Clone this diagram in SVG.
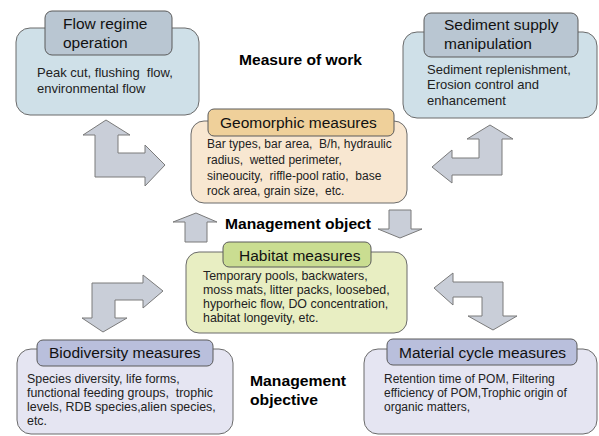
<svg xmlns="http://www.w3.org/2000/svg" width="599" height="436" viewBox="0 0 599 436">
<style>
text{white-space:pre}
.outer{stroke:#6b6b6b;stroke-width:1}
.tab{stroke:#5a5a5a;stroke-width:1}
.title{font-family:"Liberation Sans",Arial,sans-serif;font-size:15.5px;fill:#111}
.body{font-family:"Liberation Sans",Arial,sans-serif;font-size:12px;fill:#222}
.bodyL{font-family:"Liberation Sans",Arial,sans-serif;font-size:12.4px;fill:#222}
.body13{font-family:"Liberation Sans",Arial,sans-serif;font-size:13px;fill:#222}
.lbl{font-family:"Liberation Sans",Arial,sans-serif;font-size:14.5px;font-weight:bold;fill:#000}
.arr{fill:#c9ced8;stroke:#7a7a7a;stroke-width:1;stroke-linejoin:miter}
</style>
<rect width="599" height="436" fill="#ffffff"/>

<g id="flow-regime">
<rect class="outer" x="16" y="28" width="183" height="87" rx="14" fill="#cfe0e8"/>
<rect class="tab" x="45" y="11" width="127" height="44" rx="7" fill="#b9c6d2"/>
<text class="title" x="63" y="29">Flow regime</text>
<text class="title" x="63" y="48">operation</text>
<text class="body13" x="37" y="77">Peak cut, flushing  flow,</text>
<text class="body13" x="37" y="93">environmental flow</text>
</g>

<g id="sediment-supply">
<rect class="outer" x="403" y="32" width="194" height="86" rx="14" fill="#cfe0e8"/>
<rect class="tab" x="424" y="13" width="154" height="44" rx="7" fill="#b9c6d2"/>
<text class="title" x="444" y="30">Sediment supply</text>
<text class="title" x="444" y="49">manipulation</text>
<text class="body13" x="427" y="74">Sediment replenishment,</text>
<text class="body13" x="427" y="89">Erosion control and</text>
<text class="body13" x="427" y="105">enhancement</text>
</g>

<g id="geomorphic">
<rect class="outer" x="191" y="121" width="216" height="82" rx="13" fill="#f8e7d1"/>
<rect class="tab" x="208" y="109" width="186" height="27" rx="6" fill="#efd09a"/>
<text class="title" x="220" y="128">Geomorphic measures</text>
<text class="body" x="207" y="148">Bar types, bar area,  B/h, hydraulic</text>
<text class="body" x="207" y="164">radius,  wetted perimeter,</text>
<text class="body" x="207" y="180">sineoucity,  riffle-pool ratio,  base</text>
<text class="body" x="207" y="195">rock area, grain size,  etc.</text>
</g>

<g id="habitat">
<rect class="outer" x="186" y="252" width="221" height="81" rx="13" fill="#e8eec2"/>
<rect class="tab" x="223" y="242" width="148" height="25" rx="6" fill="#cadd91"/>
<text class="title" x="239" y="261">Habitat measures</text>
<text class="bodyL" x="203" y="280">Temporary pools, backwaters,</text>
<text class="bodyL" x="203" y="294">moss mats, litter packs, loosebed,</text>
<text class="bodyL" x="203" y="308">hyporheic flow, DO concentration,</text>
<text class="bodyL" x="203" y="322">habitat longevity, etc.</text>
</g>

<g id="biodiversity">
<rect class="outer" x="17" y="349" width="216" height="85" rx="14" fill="#e5e5f2"/>
<rect class="tab" x="37" y="340" width="176" height="26" rx="6" fill="#b9bfdc"/>
<text class="title" x="49" y="358">Biodiversity measures</text>
<text class="bodyL" x="27" y="383">Species diversity, life forms,</text>
<text class="bodyL" x="27" y="397">functional feeding groups,  trophic</text>
<text class="bodyL" x="27" y="411">levels, RDB species,alien species,</text>
<text class="bodyL" x="27" y="425">etc.</text>
</g>

<g id="material-cycle">
<rect class="outer" x="364" y="349" width="233" height="85" rx="14" fill="#e5e5f2"/>
<rect class="tab" x="387" y="339" width="190" height="26" rx="6" fill="#b9bfdc"/>
<text class="title" x="399" y="358">Material cycle measures</text>
<text class="body" x="384" y="383">Retention time of POM, Filtering</text>
<text class="body" x="384" y="397">efficiency of POM,Trophic origin of</text>
<text class="body" x="384" y="411">organic matters,</text>
</g>

<g id="labels">
<text class="lbl" x="239" y="65" textLength="123" lengthAdjust="spacingAndGlyphs">Measure of work</text>
<text class="lbl" x="225" y="229" textLength="146" lengthAdjust="spacingAndGlyphs">Management object</text>
<text class="lbl" x="250" y="386" textLength="96" lengthAdjust="spacingAndGlyphs">Management</text>
<text class="lbl" x="250" y="405" textLength="68" lengthAdjust="spacingAndGlyphs">objective</text>
</g>

<g id="connectors">
<path class="arr" d="M106,120 L130,135 L118,135 L118,153 L145,153 L145,145 L165,165 L145,186 L145,177 L95,177 L95,135 L83,135 Z"/>
<path class="arr" d="M490,125 L513,139 L502,139 L502,175 L452,175 L452,183 L432,167 L452,150 L452,158 L479,158 L479,139 L467,139 Z"/>
<path class="arr" d="M92,283 L143,283 L143,275 L163,291 L143,308 L143,300 L115,300 L115,318 L127,318 L103,332 L82,318 L92,318 Z"/>
<path class="arr" d="M434,288 L453,273 L453,282 L503,282 L503,316 L517,316 L493,330 L468,316 L482,316 L482,297 L453,297 L453,305 Z"/>
<path class="arr" d="M196,213 L217,222 L207,222 L207,242 L185,242 L185,222 L173,222 Z"/>
<path class="arr" d="M389,210 L411,210 L411,229 L422,229 L400,238 L378,229 L389,229 Z"/>
</g>
</svg>
